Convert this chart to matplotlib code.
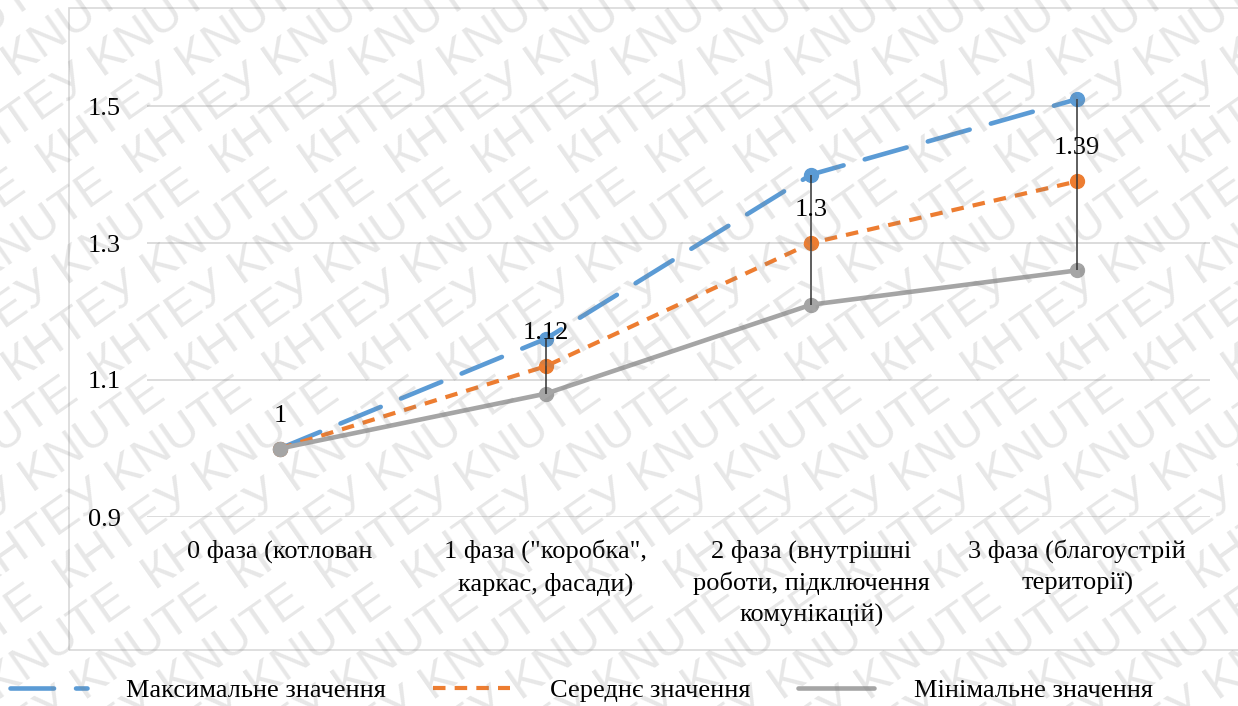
import numpy as np
import matplotlib
matplotlib.use("Agg")
import matplotlib.pyplot as plt
from matplotlib.patches import Rectangle
from matplotlib.lines import Line2D

plt.rcParams['font.family'] = ['Liberation Serif', 'DejaVu Serif']

# phases and the three estimate series
phases = [
    "0 фаза (котлован",
    "1 фаза (\"коробка\",\nкаркас, фасади)",
    "2 фаза (внутрішні\nроботи, підключення\nкомунікацій)",
    "3 фаза (благоустрій\nтериторії)",
]
max_values = [1.0, 1.16, 1.40, 1.51]
mean_values = [1.0, 1.12, 1.30, 1.39]
min_values = [1.0, 1.08, 1.21, 1.26]
mean_labels = ["1", "1.12", "1.3", "1.39"]
series_names = ["Максимальне значення", "Середнє значення", "Мінімальне значення"]
y_ticks = [0.9, 1.1, 1.3, 1.5]
y_tick_labels = ["0.9", "1.1", "1.3", "1.5"]

W, H, DPI = 1238, 706, 100
fig = plt.figure(figsize=(W / DPI, H / DPI), dpi=DPI)

# outer chart frame
fig.patches.append(Rectangle((69 / W, 1 - 650 / H), 1.2, (650 - 8) / H,
                             transform=fig.transFigure, fill=False,
                             edgecolor='#d9d9d9', linewidth=1.2, zorder=0))

ax = fig.add_axes([147 / W, 189 / H, (1210 - 147) / W, (517 - 37.5) / H])
x = np.arange(len(phases))

styles = [
    dict(color='#5b9bd5', lw=3.3, dashes=(9.5, 4.8), dash_capstyle='round'),
    dict(color='#ed7d31', lw=3.0, dashes=(3.0, 2.2)),
    dict(color='#a5a5a5', lw=3.3, solid_capstyle='round'),
]
for vals, st, z in zip([max_values, mean_values, min_values], styles, [3, 4, 5]):
    ax.plot(x, vals, marker='o', ms=10, zorder=z, **st)

# high-low lines
ax.vlines(x, min_values, max_values, color='#333333', lw=1.1, zorder=6)

for xi, yi, txt in zip(x, mean_values, mean_labels):
    ax.annotate(txt, (xi, yi), xytext=(0, 33), textcoords='offset pixels',
                ha='center', va='center', fontsize=19, zorder=7)

ax.set_xlim(-0.5, len(phases) - 0.5)
ax.set_ylim(0.9, 1.6)
ax.set_yticks(y_ticks)
ax.set_yticklabels(y_tick_labels)
ax.set_xticks(x)
ax.set_xticklabels(phases, linespacing=1.5)
ax.grid(axis='y', color='#d9d9d9', lw=1.3)
ax.set_axisbelow(True)
for s in ax.spines.values():
    s.set_visible(False)
ax.tick_params(axis='both', length=0, labelsize=19)
ax.tick_params(axis='y', pad=19)
ax.tick_params(axis='x', pad=16)

handles = [Line2D([], [], **st) for st in styles]
fig.legend(handles, series_names, loc='center left',
           bbox_to_anchor=(10 / W, 1 - 690 / H), ncol=3,
           frameon=False, fontsize=19, handlelength=2.9, handletextpad=1.5,
           columnspacing=1.8, borderpad=0, borderaxespad=0)

# diagonal watermark rows
ang = np.deg2rad(35)
row_text = "  ".join(["КНТЕУ KNUTE"] * 8)
step = 50
for k in range(-10, 40):
    bx = -700 + k * step / np.sin(ang)
    fig.text(bx, -300, row_text, transform=None, rotation=35,
             rotation_mode='anchor', ha='left', va='baseline',
             fontsize=35, family='Liberation Sans',
             color='#808080', alpha=0.19, zorder=20)

fig.savefig('out.png', dpi=DPI)
